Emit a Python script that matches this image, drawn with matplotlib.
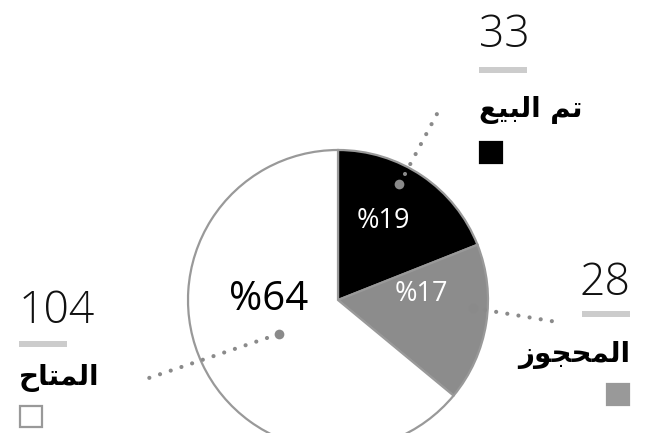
import matplotlib
matplotlib.use('Agg')
import matplotlib.pyplot as plt
from matplotlib.patches import Rectangle

# data
counts = [33, 28, 104]
percents = [19, 17, 64]
# Arabic labels, pre-shaped (presentation forms, visual order) because matplotlib
# has no bidi/shaping: "تم البيع", "المحجوز", "المتاح"
labels = ['\uFECA\uFEF4\uFE92\uFEDF\uFE8D \uFEE2\uFE97',
          '\uFEAF\uFEEE\uFEA0\uFEA4\uFEE4\uFEDF\uFE8D',
          '\uFEA1\uFE8E\uFE98\uFEE4\uFEDF\uFE8D']
colors = ['#000000', '#8c8c8c', '#ffffff']
swatch = ['#000000', '#999999', '#ffffff']
W, H = 651, 433

fig = plt.figure(figsize=(W / 100, H / 100), dpi=100)
ax = fig.add_axes([0, 0, 1, 1])

# y axis inverted below, so counterclock in data = clockwise on screen
ax.pie(percents, colors=colors, startangle=-90, counterclock=True,
       center=(338, 300), radius=150,
       wedgeprops=dict(edgecolor='#999999', linewidth=1.6))
ax.set_xlim(0, W)
ax.set_ylim(H, 0)
ax.set_aspect('equal')
ax.axis('off')

numfont = dict(family='Open Sans', fontweight='light', color='#111111')
pctfont = dict(family='Open Sans')
arfont = dict(family='DejaVu Sans', fontweight='bold', color='black')

# percent labels inside slices
ax.text(383, 221, '%' + str(percents[0]), color='white', fontsize=19.5,
        ha='center', va='center', **pctfont)
ax.text(421, 294, '%' + str(percents[1]), color='white', fontsize=19.5,
        ha='center', va='center', **pctfont)
ax.text(269, 300, '%' + str(percents[2]), color='black', fontsize=29,
        ha='center', va='center', **pctfont)

# dotted leaders: (big dot, start, end)
leaders = [((399, 184), (405, 174), (438, 112)),
           ((473, 308), (485, 310), (557, 322)),
           ((279, 334), (267, 338), (143, 380))]
for dot, a, b in leaders:
    ax.plot([a[0], b[0]], [a[1], b[1]], color='#8a8a8a', lw=3,
            dashes=(0.01, 2.7), dash_capstyle='round')
    ax.plot(dot[0], dot[1], 'o', color='#8a8a8a', ms=7, mec='none')

# legend blocks: (x, anchor, number baseline, bar y, label baseline, square y)
blocks = [(479, 'left', 47, 67, 117, 141),
          (630, 'right', 295, 311, 362, 383),
          (19, 'left', 323, 341, 385, 405)]
for i, (x, ha, ny, by, ly, sy) in enumerate(blocks):
    ax.text(x, ny, str(counts[i]), fontsize=32, ha=ha, va='baseline', **numfont)
    bx = x if ha == 'left' else x - 48
    ax.add_patch(Rectangle((bx, by), 48, 6, color='#cccccc', lw=0))
    ax.text(x, ly, labels[i], fontsize=20, ha=ha, va='baseline', **arfont)
    sx = x if ha == 'left' else x - 24
    ax.add_patch(Rectangle((sx + 1, sy + 1), 22, 21, facecolor=swatch[i],
                           edgecolor='#999999' if i == 2 else swatch[i], lw=1.6))

fig.savefig('out.png', dpi=100)
